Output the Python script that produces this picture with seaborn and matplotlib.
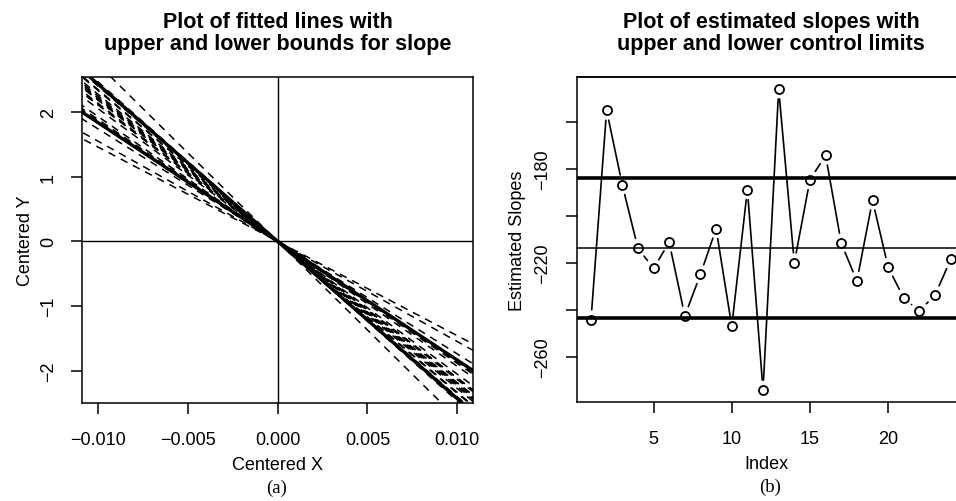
import numpy as np
import pandas as pd
import matplotlib
matplotlib.use("Agg")
import matplotlib.pyplot as plt
import seaborn as sns

# Estimated slopes for each of the 24 samples
sample_index = list(range(1, 25))
est_slopes = [-244.3, -155.1, -186.8, -213.8, -222.4, -211.3, -242.6, -224.9,
              -205.5, -247.1, -188.9, -274.2, -146.0, -220.0, -184.7, -174.2,
              -211.6, -227.8, -193.4, -221.9, -235.1, -240.5, -233.7, -218.6]

# Control limits for the slope
center_line = -213.6
upper_limit = -183.8
lower_limit = -243.4

x_ticks_left = [-0.010, -0.005, 0.000, 0.005, 0.010]
x_tick_labels_left = ["\u22120.010", "\u22120.005", "0.000", "0.005", "0.010"]
y_ticks_left = [-2, -1, 0, 1, 2]
y_tick_labels_left = ["\u22122", "\u22121", "0", "1", "2"]
x_ticks_right = [5, 10, 15, 20]
y_ticks_right = [-260, -240, -220, -200, -180, -160]
y_tick_labels_right = ["\u2212260", "", "\u2212220", "", "\u2212180", ""]

sns.set_style("ticks")
plt.rcParams["font.family"] = ["Liberation Sans", "DejaVu Sans"]
plt.rcParams["text.color"] = "black"
plt.rcParams["axes.labelcolor"] = "black"
plt.rcParams["xtick.color"] = "black"
plt.rcParams["ytick.color"] = "black"
plt.rcParams["axes.edgecolor"] = "black"
plt.rcParams["axes.linewidth"] = 1.1
plt.rcParams["xtick.major.width"] = 1.1
plt.rcParams["ytick.major.width"] = 1.1

W, H = 956, 502
fig = plt.figure(figsize=(W / 100, H / 100), dpi=100)
axL = fig.add_axes([82 / W, 1 - 404 / H, 391 / W, 326 / H])
# right panel runs to the right edge of the canvas
axR_left = 576.6
axR = fig.add_axes([axR_left / W, 1 - 403 / H, (W - axR_left) / W, 325 / H])

# ---------------- left panel: fitted lines through the centre ----------------
axL.set_xlim(-0.01087, 0.01087)
axL.set_ylim(-2.50, 2.54)
x_span = np.array([-0.02, 0.02])
n = len(est_slopes)
fit_df = pd.DataFrame({
    "sample": np.repeat(sample_index, 2),
    "x": np.tile(x_span, n),
    "y": np.repeat(est_slopes, 2) * np.tile(x_span, n),
})
sns.lineplot(data=fit_df, x="x", y="y", units="sample", estimator=None,
             sort=False, color="black", lw=1.1, legend=False, ax=axL)
for ln in axL.lines:
    ln.set_dashes((5, 4))

bound_df = pd.DataFrame({
    "bound": np.repeat(["upper", "lower"], 2),
    "x": np.tile(x_span, 2),
    "y": np.repeat([upper_limit, lower_limit], 2) * np.tile(x_span, 2),
})
sns.lineplot(data=bound_df, x="x", y="y", units="bound", estimator=None,
             sort=False, color="black", lw=2.4, legend=False, ax=axL)
axL.axhline(0, color="black", lw=1.0)
axL.axvline(0, color="black", lw=1.0)

axL.set_xticks(x_ticks_left)
axL.set_xticklabels(x_tick_labels_left)
axL.set_yticks(y_ticks_left)
axL.set_yticklabels(y_tick_labels_left, rotation=90, va="center")

# ---------------- right panel: slope control chart ----------------
axR.set_xlim(0.08, 0.08 + (W - axR_left) / 15.64)
axR.set_ylim(-279.3, -140.9)

# connecting segments with gaps around each point
pts = axR.transData.transform(np.column_stack([sample_index, est_slopes]))
inv = axR.transData.inverted()
gap = 10.0
seg_rows = []
for i in range(len(pts) - 1):
    p0, p1 = pts[i], pts[i + 1]
    d = p1 - p0
    L = np.hypot(*d)
    if L <= 2 * gap:
        continue
    u = d / L
    a = inv.transform(p0 + u * gap)
    b = inv.transform(p1 - u * gap)
    seg_rows.append((i, a[0], a[1]))
    seg_rows.append((i, b[0], b[1]))
seg_df = pd.DataFrame(seg_rows, columns=["seg", "x", "y"])
sns.lineplot(data=seg_df, x="x", y="y", units="seg", estimator=None,
             sort=False, color="black", lw=1.2, legend=False, ax=axR)

axR.axhline(upper_limit, color="black", lw=2.6, zorder=3)
axR.axhline(lower_limit, color="black", lw=2.6, zorder=3)
axR.axhline(center_line, color="black", lw=1.1, zorder=3)

sns.lineplot(x=sample_index, y=est_slopes, marker="o", linestyle="none",
             mfc="none", mec="black", ms=6.5, mew=1.3, legend=False, ax=axR,
             zorder=4)
axR.lines[-1].set_clip_on(False)

axR.set_xticks(x_ticks_right)
axR.set_yticks(y_ticks_right)
axR.set_yticklabels(y_tick_labels_right, rotation=90, va="center")

for ax, xl, yl, ttl, ylp in (
    (axL, "Centered X", "Centered Y",
     "Plot of fitted lines with\nupper and lower bounds for slope", 4),
    (axR, "Index", "Estimated Slopes",
     "Plot of estimated slopes with\nupper and lower control limits", 6),
):
    ax.tick_params(axis="x", length=8, pad=12, labelsize=13, color="black")
    ax.tick_params(axis="y", length=8, pad=10, labelsize=13, color="black")
    ax.set_xlabel(xl, fontsize=13, labelpad=6)
    ax.set_ylabel(yl, fontsize=13, labelpad=ylp)
    ax.set_title(ttl, fontsize=15.5, fontweight="bold", pad=20,
                 linespacing=1.05)
    for sp in ax.spines.values():
        sp.set_visible(True)
        sp.set_color("black")
        sp.set_linewidth(1.1)
        sp.set_zorder(5)
axR.spines["right"].set_visible(False)
# the frame's top edge of the right panel
axR.plot([0, 1], [1, 1], transform=axR.transAxes, color="black", lw=1.1,
         clip_on=False, zorder=6)
# centre the right title over the full plotting region
axR.title.set_x((771 - axR_left) / (W - axR_left))

# panel captions
fig.text(277 / W, 1 - 488 / H, "(a)", ha="center", va="center",
         fontsize=13.5, family=["Liberation Serif", "DejaVu Serif"])
fig.text(770 / W, 1 - 487 / H, "(b)", ha="center", va="center",
         fontsize=13.5, family=["Liberation Serif", "DejaVu Serif"])

fig.savefig("out.png", dpi=100)
